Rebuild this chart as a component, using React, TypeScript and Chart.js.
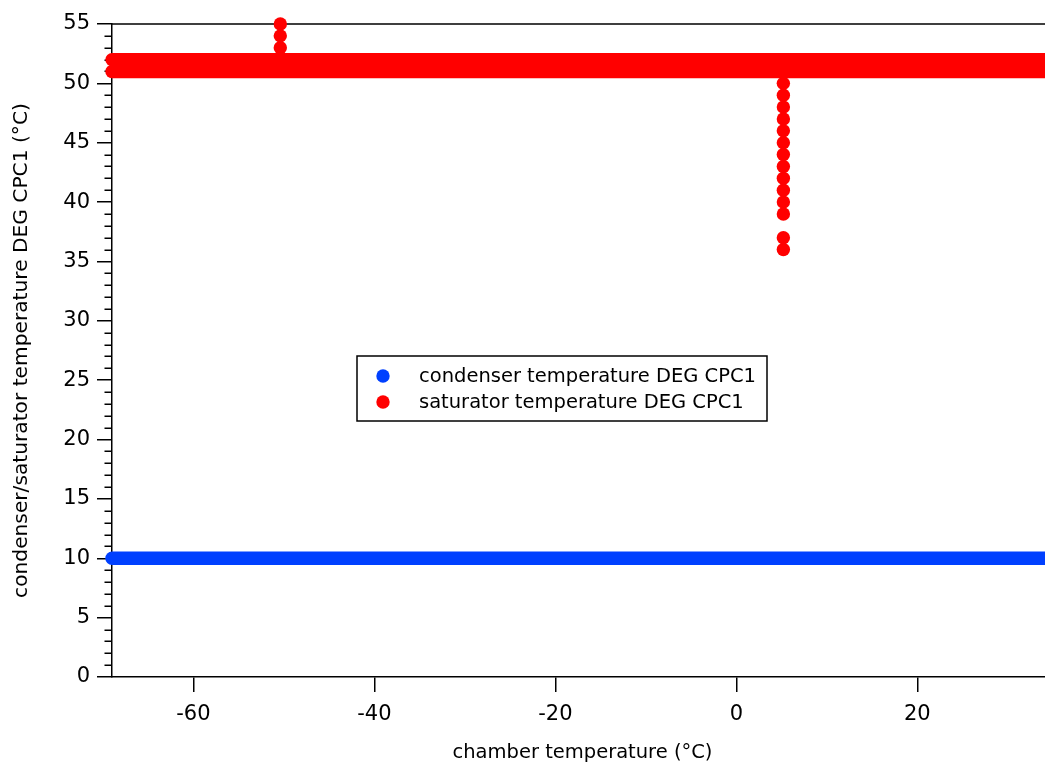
import React, { useEffect, useRef } from "react";
import { Chart, registerables } from "chart.js";

Chart.register(...registerables);

// ---- data ----
const X_TICKS = [-60, -40, -20, 0, 20];
const Y_TICKS = [0, 5, 10, 15, 20, 25, 30, 35, 40, 45, 50, 55];
const Y_MINOR_TICKS = [1, 2, 3, 4, 6, 7, 8, 9, 11, 12, 13, 14, 16, 17, 18, 19, 21, 22, 23, 24, 26, 27, 28, 29, 31, 32, 33, 34, 36, 37, 38, 39, 41, 42, 43, 44, 46, 47, 48, 49, 51, 52, 53, 54];

const CONDENSER_X = [-69, -60, -50, -40, -30, -20, -10, 0, 10, 20, 30, 35];
const CONDENSER_Y = [10, 10, 10, 10, 10, 10, 10, 10, 10, 10, 10, 10];

const SATURATOR_BAND_X = [-69, -60, -50, -40, -30, -20, -10, 0, 10, 20, 30, 35];
const SATURATOR_BAND_LOW = [51, 51, 51, 51, 51, 51, 51, 51, 51, 51, 51, 51];
const SATURATOR_BAND_HIGH = [52, 52, 52, 52, 52, 52, 52, 52, 52, 52, 52, 52];

const SATURATOR_SPIKE1_X = [-50.4, -50.4, -50.4];
const SATURATOR_SPIKE1_Y = [53, 54, 55];
const SATURATOR_SPIKE2_X = [5.2, 5.2, 5.2, 5.2, 5.2, 5.2, 5.2, 5.2, 5.2, 5.2, 5.2, 5.2, 5.2, 5.2];
const SATURATOR_SPIKE2_Y = [50, 49, 48, 47, 46, 45, 44, 43, 42, 41, 40, 39, 37, 36];

const SERIES_LABELS = ["condenser temperature DEG CPC1", "saturator temperature DEG CPC1"];
const BLUE = "rgb(0, 64, 255)";
const RED = "rgb(255, 0, 0)";

const FONT = "'DejaVu Sans', 'Liberation Sans', sans-serif";
const FONT_SIZE = 19.5;
const TICK_FONT_SIZE = 21;

const zip = (xs: number[], ys: number[]) => xs.map((x, i) => ({ x, y: ys[i] }));

const framePlugin = {
  id: "frame",
  beforeDatasetsDraw(chart: any) {
    const { ctx, chartArea, scales } = chart;
    const y = scales.y;
    ctx.save();
    ctx.strokeStyle = "#000";
    ctx.lineWidth = 1.5;
    ctx.beginPath();
    ctx.moveTo(chartArea.left, chartArea.top);
    ctx.lineTo(chartArea.right + 20, chartArea.top);
    for (const v of Y_MINOR_TICKS) {
      const py = Math.round(y.getPixelForValue(v)) + 0.25;
      ctx.moveTo(chartArea.left - 7.5, py);
      ctx.lineTo(chartArea.left, py);
    }
    ctx.stroke();
    ctx.restore();
  },
};

const legendPlugin = {
  id: "boxLegend",
  afterDraw(chart: any) {
    const { ctx } = chart;
    ctx.save();
    const bx = 357, by = 356, bw = 410, bh = 65;
    ctx.fillStyle = "#fff";
    ctx.fillRect(bx, by, bw, bh);
    ctx.strokeStyle = "#000";
    ctx.lineWidth = 1.5;
    ctx.strokeRect(bx, by, bw, bh);
    const colors = [BLUE, RED];
    const rows = [376, 402];
    ctx.font = `${FONT_SIZE}px ${FONT}`;
    ctx.textBaseline = "middle";
    ctx.textAlign = "left";
    SERIES_LABELS.forEach((label, i) => {
      ctx.fillStyle = colors[i];
      ctx.beginPath();
      ctx.arc(383, rows[i], 6.7, 0, Math.PI * 2);
      ctx.fill();
      ctx.fillStyle = "#000";
      ctx.fillText(label, 419, rows[i] + 1);
    });
    ctx.restore();
  },
};

export default function App() {
  const canvasRef = useRef<HTMLCanvasElement | null>(null);

  useEffect(() => {
    const canvas = canvasRef.current;
    if (!canvas) return;
    const lineBand = (data: any[], color: string, label: string) => ({
      label,
      data,
      showLine: true,
      borderColor: color,
      backgroundColor: color,
      borderWidth: 13.4,
      borderCapStyle: "round",
      borderJoinStyle: "round",
      pointRadius: 0,
      pointHoverRadius: 0,
      fill: false,
      tension: 0,
      clip: false,
    });
    const dots = (data: any[], color: string, label: string) => ({
      label,
      data,
      showLine: false,
      borderColor: color,
      backgroundColor: color,
      borderWidth: 0,
      pointRadius: 6.7,
      pointHoverRadius: 6.7,
      clip: false,
    });
    const chart = new Chart(canvas, {
      type: "scatter",
      data: {
        datasets: [
          lineBand(zip(CONDENSER_X, CONDENSER_Y), BLUE, SERIES_LABELS[0]),
          lineBand(zip(SATURATOR_BAND_X, SATURATOR_BAND_LOW), RED, SERIES_LABELS[1]),
          lineBand(zip(SATURATOR_BAND_X, SATURATOR_BAND_HIGH), RED, SERIES_LABELS[1]),
          dots(zip(SATURATOR_SPIKE1_X, SATURATOR_SPIKE1_Y), RED, SERIES_LABELS[1]),
          dots(zip(SATURATOR_SPIKE2_X, SATURATOR_SPIKE2_Y), RED, SERIES_LABELS[1]),
        ] as any,
      },
      options: {
        animation: false,
        responsive: false,
        devicePixelRatio: 1,
        events: [],
        layout: { padding: { left: 0, top: 24, right: 7, bottom: 0 } },
        plugins: {
          legend: { display: false },
          tooltip: { enabled: false },
        },
        scales: {
          x: {
            type: "linear",
            position: "bottom",
            min: -69,
            max: 35,
            afterBuildTicks: (scale: any) => {
              scale.ticks = X_TICKS.map((value) => ({ value }));
            },
            afterFit: (scale: any) => {
              scale.height = 86;
            },
            ticks: {
              includeBounds: false,
              color: "#000",
              padding: 10,
              maxRotation: 0,
              autoSkip: false,
              font: { family: FONT, size: TICK_FONT_SIZE },
            },
            grid: {
              display: true,
              drawOnChartArea: false,
              drawTicks: true,
              tickLength: 15,
              color: "#000",
              lineWidth: 1.5,
            },
            border: { display: true, color: "#000", width: 1.5 },
            title: {
              display: true,
              text: "chamber temperature (°C)",
              color: "#000",
              font: { family: FONT, size: FONT_SIZE, lineHeight: 1 },
              padding: { top: 0, bottom: 0 },
            },
          },
          y: {
            type: "linear",
            position: "left",
            min: 0,
            max: 55,
            afterBuildTicks: (scale: any) => {
              scale.ticks = Y_TICKS.map((value) => ({ value }));
            },
            afterFit: (scale: any) => {
              scale.width = 112;
            },
            ticks: {
              includeBounds: false,
              color: "#000",
              padding: 7,
              autoSkip: false,
              font: { family: FONT, size: TICK_FONT_SIZE },
            },
            grid: {
              display: true,
              drawOnChartArea: false,
              drawTicks: true,
              tickLength: 15,
              color: "#000",
              lineWidth: 1.5,
            },
            border: { display: true, color: "#000", width: 1.5 },
            title: {
              display: true,
              text: "condenser/saturator temperature DEG CPC1 (°C)",
              color: "#000",
              font: { family: FONT, size: 20.2 },
              padding: { top: 10, bottom: 0 },
            },
          },
        },
      } as any,
      plugins: [framePlugin, legendPlugin],
    });
    return () => chart.destroy();
  }, []);

  return (
    <div
      style={{
        position: "fixed",
        left: 0,
        top: 0,
        width: 1045,
        height: 763,
        overflow: "hidden",
        background: "#fff",
      }}
    >
      <canvas ref={canvasRef} width={1060} height={763} style={{ display: "block" }} />
    </div>
  );
}
